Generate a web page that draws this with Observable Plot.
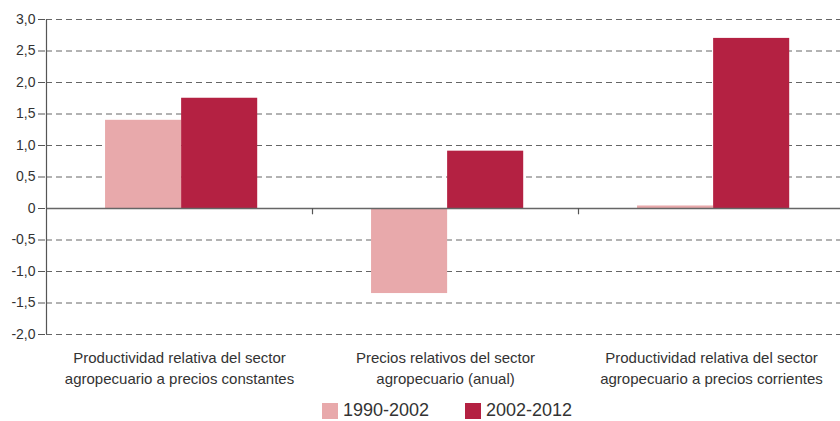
<!DOCTYPE html>
<html><head><meta charset="utf-8">
<script src="https://cdn.jsdelivr.net/npm/d3@7"></script>
<script src="https://cdn.jsdelivr.net/npm/@observablehq/plot@0.6"></script>
<style>
body{margin:0;background:#fff;font-family:"Liberation Sans",Arial,sans-serif;}
#legend{display:flex;justify-content:center;align-items:flex-start;height:23px;font-size:18px;color:#333;margin-left:54px;padding-top:4px}
.item{display:flex;align-items:center;margin:0 18px;line-height:17px}
.sw{width:16px;height:16px;margin-right:5px}
</style></head><body>
<div id="chart"></div>
<div id="legend"></div>
<script>
const categories = [
  "Productividad relativa del sector\nagropecuario a precios constantes",
  "Precios relativos del sector\nagropecuario (anual)",
  "Productividad relativa del sector\nagropecuario a precios corrientes"
];
const seriesNames = ["1990-2002", "2002-2012"];
const values1990 = [1.40, -1.35, 0.04];
const values2002 = [1.75, 0.91, 2.70];
const yTicks = [-2, -1.5, -1, -0.5, 0, 0.5, 1, 1.5, 2, 2.5, 3];
const colors = ["#E8A9AB", "#B42142"];

const rows = [];
categories.forEach((c, i) => {
  rows.push({cat: c, idx: i, series: seriesNames[0], s: 0, value: values1990[i]});
  rows.push({cat: c, idx: i, series: seriesNames[1], s: 1, value: values2002[i]});
});
const groupStart = 0.222, barW = 0.286;
const fmt = d => d === 0 ? "0" : d.toFixed(1).replace(".", ",");

const plot = Plot.plot({
  width: 840, height: 398,
  marginLeft: 45, marginRight: 0, marginTop: 19, marginBottom: 64,
  style: {fontFamily: '"Liberation Sans", Arial, sans-serif', fontSize: "14px", color: "#333"},
  x: {domain: [0, 3], range: [46, 844], axis: null},
  y: {domain: [-2, 3], axis: null},
  color: {domain: seriesNames, range: colors},
  marks: [
    Plot.ruleY(yTicks.filter(d => d !== 0), {x1: 0, x2: 3, stroke: "#666", strokeWidth: 1, strokeDasharray: "6,4"}),
    Plot.rectY(rows, {
      x1: d => d.idx + groupStart + d.s * barW,
      x2: d => d.idx + groupStart + (d.s + 1) * barW,
      y1: 0, y2: "value", fill: "series"
    }),
    Plot.ruleY([0], {x1: 0, x2: 3, stroke: "#666", strokeWidth: 1.5}),
    Plot.ruleX([0], {y1: -2, y2: 3, stroke: "#555", strokeWidth: 1.2}),
    Plot.ruleX([1, 2], {y1: 0, y2: -0.1, stroke: "#555", strokeWidth: 1.2}),
    Plot.axisY({ticks: yTicks, tickFormat: fmt, tickSize: 7, tickPadding: 3, stroke: "#555", fill: "#333", fontSize: 14, label: null}),
    Plot.text(categories, {
      x: (d, i) => i + 0.5, y: -2, text: d => d, dy: 14,
      lineAnchor: "top", lineHeight: 1.4, fontSize: 15, fill: "#333"
    })
  ]
});
document.getElementById("chart").appendChild(plot);

const lg = document.getElementById("legend");
seriesNames.forEach((n, i) => {
  const it = document.createElement("div"); it.className = "item";
  const sw = document.createElement("div"); sw.className = "sw"; sw.style.background = colors[i];
  const tx = document.createElement("span"); tx.textContent = n;
  it.appendChild(sw); it.appendChild(tx); lg.appendChild(it);
});
</script></body></html>
